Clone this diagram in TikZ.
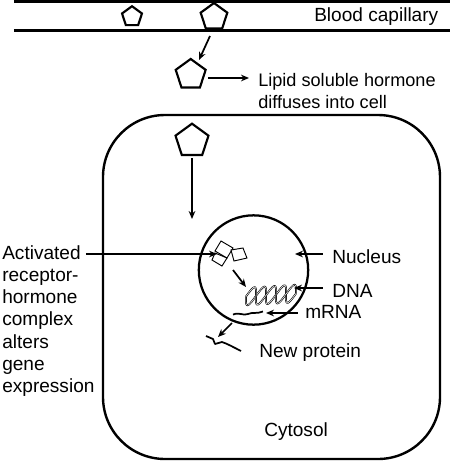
\documentclass[tikz,border=0pt]{standalone}
\usepackage{fontspec}
\setmainfont{Liberation Sans}
\usetikzlibrary{shapes.geometric,arrows.meta}
\tikzset{
  wall/.style={line width=1.8pt,black},
  hormone/.style={draw=black,line width=1.6pt,regular polygon,regular polygon sides=5,inner sep=0pt,minimum size=#1},
  label/.style={font=\fontsize{14.3}{16.6}\selectfont,inner sep=0pt,align=left,anchor=west},
  narrow label/.style={label,font=\fontsize{13.6}{16.6}\selectfont},
  pointer/.style={line width=1.3pt,-{Stealth[length=6pt,width=5pt]}},
  subunit/.style={draw=black,fill=white,line width=.7pt,line join=miter}
}
\begin{document}
\begin{tikzpicture}[x=0.75pt,y=-0.75pt]
\useasboundingbox (0,0) rectangle (450,462);
\fill[white] (0,0) rectangle (450,462);
% capillary walls
\draw[wall] (14,1.5) -- (450,1.5);
\draw[wall] (14,30.5) -- (450,30.5);
% cell and nucleus
\draw[wall,rounded corners=46.5pt] (103,115) rectangle (440,459);
\node[circle,draw=black,line width=1.7pt,minimum size=82pt,inner sep=0pt] (nucleus) at (253.5,270) {};
% hormone molecules
\node[hormone=15.7pt] (h1) at (132,16.7) {};
\node[hormone=21pt] (h2) at (214,17) {};
\node[hormone=23.6pt] (h3) at (190.7,74.7) {};
\node[hormone=26pt] (h4) at (192,141) {};
% text
\node[label] (cap) at (314,17) {Blood capillary};
\node[narrow label] (lipid) at (258,91) {Lipid soluble hormone\\diffuses into cell};
\node[label] (act) at (2,321) {Activated\\receptor-\\hormone\\complex\\alters\\gene\\expression};
\node[label] (nuc) at (332,257) {Nucleus};
\node[label] (dna) at (332,291) {DNA};
\node[label] (mrna) at (305,312) {mRNA};
\node[label] (prot) at (259,353) {New protein};
\node[label] (cyt) at (264,432) {Cytosol};
% receptor-hormone complex
\path[subunit] (215,253) -- (212,260) -- (222,266) -- (227,258) -- cycle;
\path[subunit] (221,241) -- (233,248) -- (227,258) -- (215,251) -- cycle;
\path[subunit] (231,250) -- (243,248) -- (247,258) -- (234,261) -- cycle;
% DNA double helix, two slanted strands
\foreach \s in {0,180}{
  \draw[black,line width=1.3pt,domain=0:50,samples=90,smooth] plot ({246+\x-3.5*sin(\x*18+\s)},{296.5-0.06*\x+9*sin(\x*18+\s)});
  \draw[white,line width=.4pt,domain=0:50,samples=90,smooth] plot ({246+\x-3.5*sin(\x*18+\s)},{296.5-0.06*\x+9*sin(\x*18+\s)});
}
% mRNA strand
\draw[line width=1.3pt] (233,314.5) .. controls (240,312) and (243,316) .. (248,314) .. controls (252,312) and (257,314) .. (263,311.5);
% new protein chain
\draw[line width=1.3pt,line join=round] (206,336) -- (213,339) -- (215,344) -- (222,342) .. controls (228,344) and (233,347) .. (241,351);
% connector ends
\coordinate (a0) at (192,158);
\coordinate (a1) at (192,219);
\coordinate (b0) at (210,36);
\coordinate (b1) at (199,60);
\coordinate (c0) at (208,78);
\coordinate (c1) at (249,78);
\coordinate (d0) at (86,254);
\coordinate (d1) at (217,254);
\coordinate (e0) at (323,254);
\coordinate (e1) at (295,254);
\coordinate (f0) at (323,288);
\coordinate (f1) at (294,288);
\coordinate (g0) at (298,313);
\coordinate (g1) at (266,313);
\coordinate (k0) at (233,270);
\coordinate (k1) at (246,287);
\coordinate (m0) at (232,323);
\coordinate (m1) at (218,337);
% connectors
\draw[pointer] (a0) -- (a1);
\draw[pointer] (b0) -- (b1);
\draw[pointer] (c0) -- (c1);
\draw[pointer] (d0) -- (d1);
\draw[pointer] (e0) -- (e1);
\draw[pointer] (f0) -- (f1);
\draw[pointer] (g0) -- (g1);
\draw[pointer] (k0) -- (k1);
\draw[pointer] (m0) -- (m1);
\end{tikzpicture}
\end{document}
